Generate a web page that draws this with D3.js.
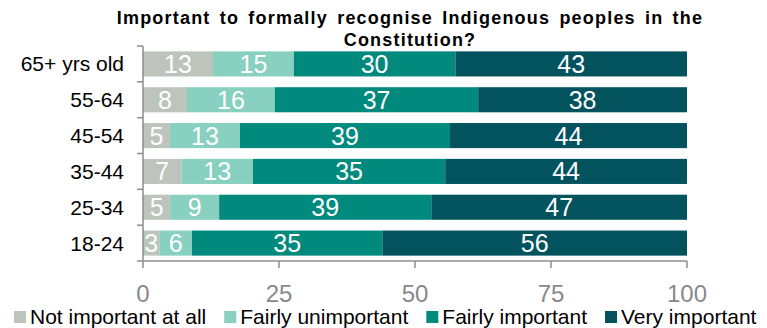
<!DOCTYPE html>
<html>
<head>
  <script src="https://d3js.org/d3.v7.min.js"></script>
  <title>Indigenous recognition by age</title>
  <style>
    body { margin: 0; background: #fff; }
    text { font-family: "Liberation Sans", Arial, sans-serif; }
    .title { font-size: 18px; font-weight: bold; fill: #000; letter-spacing: 1.2px; word-spacing: 3px; }
    .cat-label { font-size: 21px; fill: #000; }
    .value-label { font-size: 25px; fill: #fff; }
    .tick-label { font-size: 24px; fill: #898989; }
    .legend-label { font-size: 21px; fill: #000; }
    .axis-line { stroke: #8c8c8c; stroke-width: 1.5; fill: none; }
  </style>
</head>
<body>
  <div id="chart-container"></div>
  <script>
    var categories = ["65+ yrs old", "55-64", "45-54", "35-44", "25-34", "18-24"];
    var seriesNames = ["Not important at all", "Fairly unimportant", "Fairly important", "Very important"];
    var notImportant = [13, 8, 5, 7, 5, 3];
    var fairlyUnimportant = [15, 16, 13, 13, 9, 6];
    var fairlyImportant = [30, 37, 39, 35, 39, 35];
    var veryImportant = [43, 38, 44, 44, 47, 56];
    var xTicks = [0, 25, 50, 75, 100];
    var titleLines = ["Important to formally recognise Indigenous peoples in the", "Constitution?"];

    var colors = ["#bcc4bb", "#88d0c0", "#008a7e", "#02535e"];

    var width = 767;
    var height = 328;
    var plotLeft = 143, plotRight = 687, plotTop = 46, plotBottom = 261;

    var data = categories.map(function(c, i) {
      return {
        cat: c,
        "Not important at all": notImportant[i],
        "Fairly unimportant": fairlyUnimportant[i],
        "Fairly important": fairlyImportant[i],
        "Very important": veryImportant[i]
      };
    });

    // rounded shares don't always add to 100, so stretch each row to full width
    var stack = d3.stack()
      .keys(seriesNames)
      .offset(d3.stackOffsetExpand);
    var layers = stack(data);

    var svg = d3.select("#chart-container")
      .append("svg")
      .attr("width", width)
      .attr("height", height);

    var xScale = d3.scaleLinear()
      .domain([0, 100])
      .range([plotLeft, plotRight]);

    var yScale = d3.scaleBand()
      .domain(categories)
      .range([plotTop, plotBottom])
      .paddingInner(0.3)
      .paddingOuter(0.15);

    // title
    svg.selectAll(".title")
      .data(titleLines)
      .enter().append("text")
      .attr("class", "title")
      .attr("x", 410)
      .attr("y", function(d, i) { return 24 + i * 22; })
      .attr("text-anchor", "middle")
      .text(function(d) { return d; });

    // bars
    var layerGroups = svg.selectAll(".layer")
      .data(layers)
      .enter().append("g")
      .attr("class", "layer")
      .attr("fill", function(d, i) { return colors[i]; });

    layerGroups.selectAll("rect")
      .data(function(d) { return d; })
      .enter().append("rect")
      .attr("x", function(d) { return xScale(d[0] * 100); })
      .attr("y", function(d) { return yScale(d.data.cat); })
      .attr("width", function(d) { return xScale(d[1] * 100) - xScale(d[0] * 100); })
      .attr("height", yScale.bandwidth());

    layerGroups.each(function(layer) {
      d3.select(this).selectAll("text")
        .data(layer)
        .enter().append("text")
        .attr("class", "value-label")
        .attr("x", function(d) { return xScale((d[0] + d[1]) / 2 * 100); })
        .attr("y", function(d) { return yScale(d.data.cat) + yScale.bandwidth() / 2; })
        .attr("dy", "0.36em")
        .attr("text-anchor", "middle")
        .text(function(d) { return d.data[layer.key]; });
    });

    // y axis
    var step = yScale.step();
    svg.append("line")
      .attr("class", "axis-line")
      .attr("x1", plotLeft).attr("x2", plotLeft)
      .attr("y1", plotTop).attr("y2", plotBottom);
    svg.selectAll(".ytick")
      .data(d3.range(categories.length + 1))
      .enter().append("line")
      .attr("class", "axis-line")
      .attr("x1", plotLeft - 6).attr("x2", plotLeft)
      .attr("y1", function(i) { return plotTop + i * step; })
      .attr("y2", function(i) { return plotTop + i * step; });

    svg.selectAll(".cat-label")
      .data(categories)
      .enter().append("text")
      .attr("class", "cat-label")
      .attr("x", 124)
      .attr("y", function(d) { return yScale(d) + yScale.bandwidth() / 2; })
      .attr("dy", "0.36em")
      .attr("text-anchor", "end")
      .text(function(d) { return d; });

    // x axis
    svg.append("line")
      .attr("class", "axis-line")
      .attr("x1", plotLeft).attr("x2", plotRight)
      .attr("y1", plotBottom).attr("y2", plotBottom);
    svg.selectAll(".xtick")
      .data(xTicks)
      .enter().append("line")
      .attr("class", "axis-line")
      .attr("x1", function(d) { return xScale(d); })
      .attr("x2", function(d) { return xScale(d); })
      .attr("y1", plotBottom).attr("y2", plotBottom + 7);
    svg.selectAll(".tick-label")
      .data(xTicks)
      .enter().append("text")
      .attr("class", "tick-label")
      .attr("x", function(d) { return xScale(d); })
      .attr("y", 302)
      .attr("text-anchor", "middle")
      .text(function(d) { return d; });

    // legend
    var legendX = 14;
    seriesNames.forEach(function(name, i) {
      svg.append("rect")
        .attr("x", legendX)
        .attr("y", 311)
        .attr("width", 12)
        .attr("height", 12)
        .attr("fill", colors[i]);
      var t = svg.append("text")
        .attr("class", "legend-label")
        .attr("x", legendX + 16)
        .attr("y", 324)
        .text(name);
      legendX += 16 + t.node().getComputedTextLength() + 18;
    });
  </script>
</body>
</html>
